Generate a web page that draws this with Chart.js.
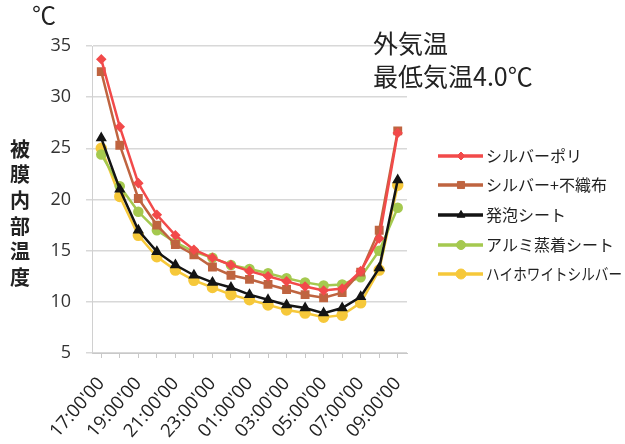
<!DOCTYPE html>
<html>
<head>
<meta charset="utf-8">
<script src="https://cdn.jsdelivr.net/npm/chart.js@4"></script>
<style>
  html, body { margin: 0; padding: 0; background: #fff; }
  #wrap { width: 625px; height: 444px; }
</style>
</head>
<body>
<div id="wrap"><canvas id="chart" width="625" height="444"></canvas></div>
<script>
const times = ["17:00'00", "18:00'00", "19:00'00", "20:00'00", "21:00'00", "22:00'00", "23:00'00", "00:00'00",
  "01:00'00", "02:00'00", "03:00'00", "04:00'00", "05:00'00", "06:00'00", "07:00'00", "08:00'00", "09:00'00"];

const silverPoly = [33.7, 27.1, 21.6, 18.5, 16.5, 15.1, 14.3, 13.6, 13.0, 12.5, 12.0, 11.5, 11.1, 11.3, 13.0, 16.2, 26.5];
const silverFelt = [32.5, 25.3, 20.1, 17.5, 15.6, 14.6, 13.4, 12.6, 12.2, 11.7, 11.2, 10.7, 10.4, 10.9, 12.9, 17.0, 26.7];
const foamSheet = [26.0, 21.0, 17.0, 14.9, 13.6, 12.6, 11.9, 11.4, 10.7, 10.2, 9.7, 9.4, 8.9, 9.4, 10.5, 13.3, 21.9];
const aluSheet = [24.4, 21.3, 18.8, 17.0, 15.8, 14.9, 14.3, 13.6, 13.2, 12.8, 12.3, 11.9, 11.6, 11.7, 12.4, 15.0, 19.2];
const highWhite = [25.0, 20.3, 16.5, 14.4, 13.1, 12.1, 11.4, 10.7, 10.2, 9.7, 9.2, 8.9, 8.5, 8.7, 9.9, 13.1, 21.4];

const yTicks = [5, 10, 15, 20, 25, 30, 35];
const yTitle = ["被", "膜", "内", "部", "温", "度"];

const jp = '"Noto Sans CJK JP", "Noto Sans", sans-serif';

// legend, axis title and notes drawn by hand
const extras = {
  id: "extras",
  afterDraw(chart) {
    const ctx = chart.ctx;
    ctx.save();
    ctx.fillStyle = "#222";
    ctx.textBaseline = "middle";
    ctx.font = "25px " + jp;
    ctx.fillText("外気温", 373, 43);
    ctx.fillText("最低気温4.0℃", 373, 76);
    ctx.font = "24px " + jp;
    ctx.fillText("℃", 32, 15);

    ctx.textAlign = "center";
    ctx.font = "bold 20px " + jp;
    yTitle.forEach((c, i) => ctx.fillText(c, 20, 149 + i * 25.7));
    ctx.textAlign = "left";

    const rows = [156, 185, 215, 245, 274];
    chart.data.datasets.forEach((ds, i) => {
      const y = rows[i];
      ctx.strokeStyle = ds.borderColor;
      ctx.lineWidth = 3.5;
      ctx.beginPath();
      ctx.moveTo(438, y);
      ctx.lineTo(483, y);
      ctx.stroke();
      ctx.fillStyle = ds.pointBackgroundColor;
      ctx.strokeStyle = ds.borderColor;
      ctx.lineWidth = 1;
      Chart.helpers.drawPoint(ctx, { pointStyle: ds.pointStyle, radius: ds.pointRadius + 0.5, borderWidth: 1 }, 461, y);
      ctx.fillStyle = "#222";
      ctx.font = "16px " + jp;
      ctx.fillText(ds.label, 486, y, 136);
    });
    ctx.restore();
  }
};

function series(label, data, color, style, r) {
  return {
    label: label,
    data: data,
    borderColor: color,
    backgroundColor: color,
    pointBackgroundColor: color,
    pointBorderColor: color,
    pointStyle: style,
    pointRadius: r,
    borderWidth: 2.5,
    tension: 0
  };
}

new Chart(document.getElementById("chart"), {
  type: "line",
  data: {
    labels: times,
    datasets: [
      series("シルバーポリ", silverPoly, "#f24a4a", "rectRot", 3.5),
      series("シルバー+不織布", silverFelt, "#bf6440", "rect", 4.5),
      series("発泡シート", foamSheet, "#141414", "triangle", 4),
      series("アルミ蒸着シート", aluSheet, "#a5c94f", "circle", 4),
      series("ハイホワイトシルバー", highWhite, "#f6c83a", "circle", 4.5)
    ]
  },
  options: {
    responsive: false,
    animation: false,
    layout: { padding: { top: 46, right: 218, left: 0, bottom: 0 } },
    plugins: {
      legend: { display: false },
      tooltip: { enabled: false }
    },
    scales: {
      x: {
        offset: true,
        afterFit(scale) { scale.height = 91; },
        grid: { drawOnChartArea: false, drawTicks: true, tickLength: 5, color: "#c8c8c8" },
        border: { color: "#c8c8c8" },
        ticks: {
          autoSkip: false,
          maxRotation: 49,
          minRotation: 49,
          padding: 15,
          color: "#222",
          font: { family: "Open Sans", size: 18.5 },
          callback(value, index) { return index % 2 === 0 ? times[index] : ""; }
        }
      },
      y: {
        min: 5,
        max: 35,
        afterFit(scale) { scale.width = 92; },
        afterBuildTicks(scale) { scale.ticks = yTicks.map(v => ({ value: v })); },
        grid: { color: "#d8d8d8", lineWidth: 1.5, tickLength: 6 },
        border: { color: "#d0d0d0" },
        ticks: {
          color: "#333",
          padding: 15,
          font: { family: "Open Sans", size: 18 }
        }
      }
    }
  },
  plugins: [extras]
});
</script>
</body>
</html>
